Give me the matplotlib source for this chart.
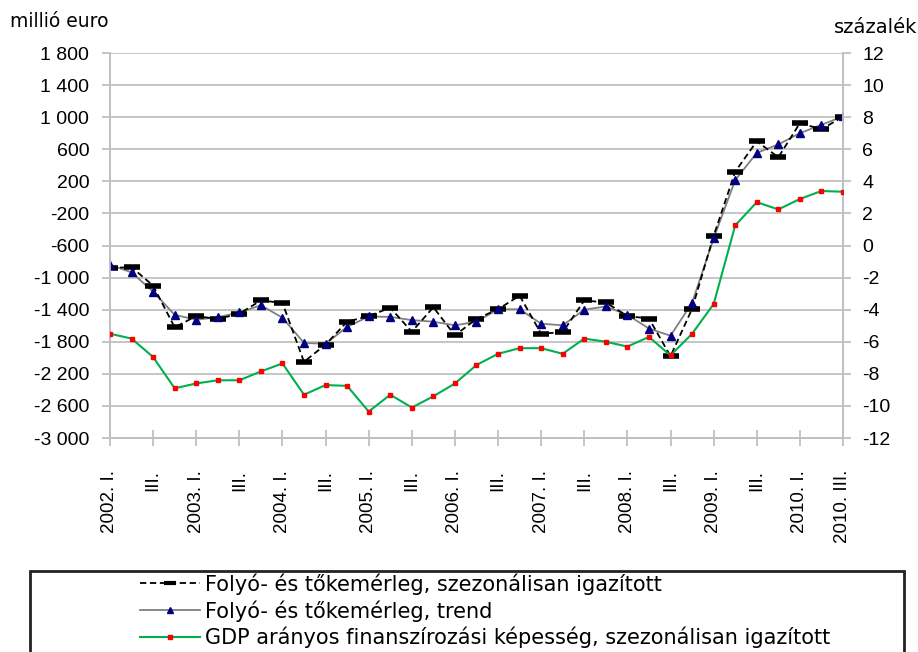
import matplotlib
matplotlib.use("Agg")
import matplotlib.pyplot as plt
from matplotlib.lines import Line2D
from matplotlib.patches import Rectangle

# quarters 2002 Q1 .. 2010 Q3
quarters = ["2002. I.", "II.", "III.", "IV.",
            "2003. I.", "II.", "III.", "IV.",
            "2004. I.", "II.", "III.", "IV.",
            "2005. I.", "II.", "III.", "IV.",
            "2006. I.", "II.", "III.", "IV.",
            "2007. I.", "II.", "III.", "IV.",
            "2008. I.", "II.", "III.", "IV.",
            "2009. I.", "II.", "III.", "IV.",
            "2010. I.", "II.", "2010. III."]

# Folyó- és tőkemérleg, szezonálisan igazított (millió euro)
balance_sa = [-880, -870, -1100, -1620, -1480, -1515, -1450, -1285, -1315, -2050,
              -1835, -1550, -1480, -1375, -1675, -1370, -1720, -1515, -1395, -1225,
              -1700, -1680, -1285, -1310, -1480, -1510, -1980, -1390, -480, 320,
              700, 500, 925, 850, 1005]

# Folyó- és tőkemérleg, trend (millió euro)
balance_trend = [-840, -935, -1175, -1465, -1525, -1495, -1435, -1345, -1500, -1815,
                 -1825, -1615, -1485, -1490, -1530, -1550, -1595, -1550, -1395, -1395,
                 -1575, -1595, -1400, -1360, -1465, -1635, -1725, -1315, -510, 215,
                 555, 660, 800, 905, 1010]

# GDP arányos finanszírozási képesség, szezonálisan igazított (százalék)
gdp_ratio = [-5.5, -5.8, -6.95, -8.9, -8.6, -8.4, -8.4, -7.85, -7.35, -9.3,
             -8.7, -8.75, -10.35, -9.3, -10.1, -9.4, -8.6, -7.45, -6.75, -6.4,
             -6.4, -6.75, -5.8, -6.0, -6.3, -5.7, -6.85, -5.5, -3.65, 1.25,
             2.7, 2.25, 2.9, 3.4, 3.35]

left_ticks = [1800, 1400, 1000, 600, 200, -200, -600, -1000, -1400, -1800, -2200, -2600, -3000]
left_labels = ["1 800", "1 400", "1 000", "600", "200", "-200", "-600", "-1 000",
               "-1 400", "-1 800", "-2 200", "-2 600", "-3 000"]
right_ticks = [12, 10, 8, 6, 4, 2, 0, -2, -4, -6, -8, -10, -12]

labels = ["Folyó- és tőkemérleg, szezonálisan igazított",
          "Folyó- és tőkemérleg, trend",
          "GDP arányos finanszírozási képesség, szezonálisan igazított"]

plt.rcParams['font.family'] = ['DejaVu Sans']
grid_col = "#c0c0c0"
sa_style = (0, (3.5, 2))

fig = plt.figure(figsize=(9.18, 6.52), dpi=100)
ax = fig.add_axes([0.1198, 0.3282, 0.7985, 0.5905])
ax2 = ax.twinx()

x = list(range(len(quarters)))

ax.set_ylim(-3000, 1800)
ax.set_yticks(left_ticks)
ax.set_yticklabels(left_labels, fontsize=14, family='Liberation Sans')
ax.grid(axis='y', color=grid_col, linewidth=1.3)
ax.set_axisbelow(True)

ax.plot(x, balance_trend, color="#808080", linewidth=1.3, zorder=3)
ax.plot(x, balance_sa, color="black", linewidth=1.3, linestyle=sa_style,
        marker='_', markersize=11, markeredgewidth=4, zorder=4)
ax.plot(x, balance_trend, color="none", marker='^', markersize=6,
        markerfacecolor="#000080", markeredgecolor="#000080", zorder=5)

ax2.set_ylim(-12, 12)
ax2.set_yticks(right_ticks)
ax2.set_yticklabels([str(t) for t in right_ticks], fontsize=14, family='Liberation Sans')
ax2.plot(x, gdp_ratio, color="#00b050", linewidth=1.5, marker='s', markersize=3.5,
         markerfacecolor="red", markeredgecolor="red", zorder=3)

ax.set_xlim(0, len(quarters) - 1)
ax.set_xticks(x[::2])
ax.set_xticklabels(quarters[::2], rotation=90, fontsize=13.5, family='Liberation Sans')

for a in (ax, ax2):
    for s in a.spines.values():
        s.set_color(grid_col)
        s.set_linewidth(1.3)
ax.spines['top'].set_visible(False)
ax2.spines['top'].set_visible(False)
ax.tick_params(axis='y', length=6, color=grid_col, width=1.3, pad=9)
ax2.tick_params(axis='y', length=6, color=grid_col, width=1.3, pad=8)
ax.tick_params(axis='x', direction='inout', length=12, color=grid_col, width=1.3, pad=17)

fig.text(0.011, 0.958, "millió euro", fontsize=13.5, ha='left', va='baseline')
fig.text(0.999, 0.949, "százalék", fontsize=14, ha='right', va='baseline')

# legend box running off the bottom edge
fig.patches.append(Rectangle((0.0327, -0.05), 0.9523, 0.1742, transform=fig.transFigure,
                             fill=False, edgecolor="#222222", linewidth=2))
handles = [
    Line2D([], [], color="black", linewidth=1.3, linestyle=sa_style, marker='_',
           markersize=8, markeredgewidth=3),
    Line2D([], [], color="#808080", linewidth=1.3, marker='^', markersize=4.5,
           markerfacecolor="#000080", markeredgecolor="#000080"),
    Line2D([], [], color="#00b050", linewidth=1.5, marker='s', markersize=3,
           markerfacecolor="red", markeredgecolor="red"),
]
fig.legend(handles, labels, loc='upper left', bbox_to_anchor=(0.153, 0.121),
           frameon=False, fontsize=15, handlelength=2.85, handletextpad=0.25,
           labelspacing=0.26, borderpad=0, borderaxespad=0, numpoints=1)

fig.savefig("out.png", dpi=100)
